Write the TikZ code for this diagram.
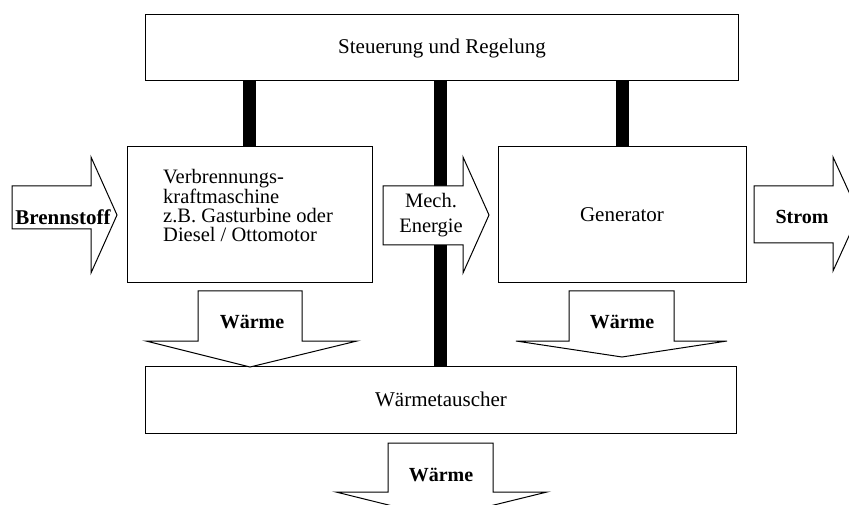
\documentclass[tikz,border=0pt]{standalone}
\usepackage{fontspec}
\setmainfont{Liberation Serif}
\begin{document}
\begin{tikzpicture}[x=1bp,y=-1bp,
  box/.style={draw,line width=1bp,fill=white,inner sep=0pt},
  bar/.style={line width=13bp},
  blockarrow/.style={draw,line width=1bp,fill=white,line join=miter},
  lbl/.style={inner sep=0pt,font=\fontsize{21bp}{24bp}\selectfont},
  blbl/.style={inner sep=0pt,font=\fontsize{20bp}{24bp}\selectfont\bfseries}]
\useasboundingbox (0,0) rectangle (849,505);
\fill[white] (0,0) rectangle (849,505);
\clip (0,0) rectangle (849,505);

% main blocks
\node[box,lbl,minimum width=592bp,minimum height=66bp] (ctrl) at (442,48) {Steuerung und Regelung};
\node[box,minimum width=245bp,minimum height=135bp] (vkm) at (249.5,214.5) {};
\node[lbl,align=left,anchor=west,font=\fontsize{20.5bp}{18.6bp}\selectfont] (vkmtext) at (163,205.5)
  {Verbrennungs-\\kraftmaschine\\z.B. Gasturbine oder\\Diesel / Ottomotor};
\node[box,lbl,minimum width=248bp,minimum height=135bp] (gen) at (622,214.5) {Generator};
\node[box,lbl,minimum width=590bp,minimum height=67bp] (wt) at (441,399.5) {Wärmetauscher};

% control links
\coordinate (shaft) at (440.5,0);
\draw[bar] (vkm.north) -- (vkm.north |- ctrl.south);
\draw[bar] (shaft |- ctrl.south) -- (shaft |- wt.north);
\draw[bar] (gen.north) -- (gen.north |- ctrl.south);

% horizontal block arrows
\draw[blockarrow] (12,186) -- (91,186) -- (91,157) -- (117,215) -- (91,273) -- (91,229) -- (12,229) -- cycle;
\node[blbl,font=\fontsize{21bp}{24bp}\selectfont\bfseries] (fuel) at (63,217) {Brennstoff};

\draw[blockarrow] (383,186) -- (463,186) -- (463,157) -- (489,215) -- (463,273) -- (463,245) -- (383,245) -- cycle;
\node[lbl,align=center,font=\fontsize{20.5bp}{25bp}\selectfont] (mech) at (431,215) {Mech.\\Energie};

\draw[blockarrow] (754,186) -- (833,186) -- (833,157) -- (859,214) -- (833,271) -- (833,243) -- (754,243) -- cycle;
\node[blbl] (power) at (802,217) {Strom};

% heat block arrows
\draw[blockarrow] (198,291) -- (302,291) -- (302,341) -- (357,341) -- (250,367) -- (146,341) -- (198,341) -- cycle;
\node[blbl] (heatA) at (252,322) {Wärme};

\draw[blockarrow] (569,291) -- (674,291) -- (674,341) -- (727,341) -- (622,357) -- (516,341) -- (569,341) -- cycle;
\node[blbl] (heatB) at (622,322) {Wärme};

\draw[blockarrow] (388,443) -- (493,443) -- (493,492) -- (547,492) -- (441,518) -- (336,492) -- (388,492) -- cycle;
\node[blbl] (heatC) at (441,475) {Wärme};
\end{tikzpicture}
\end{document}
